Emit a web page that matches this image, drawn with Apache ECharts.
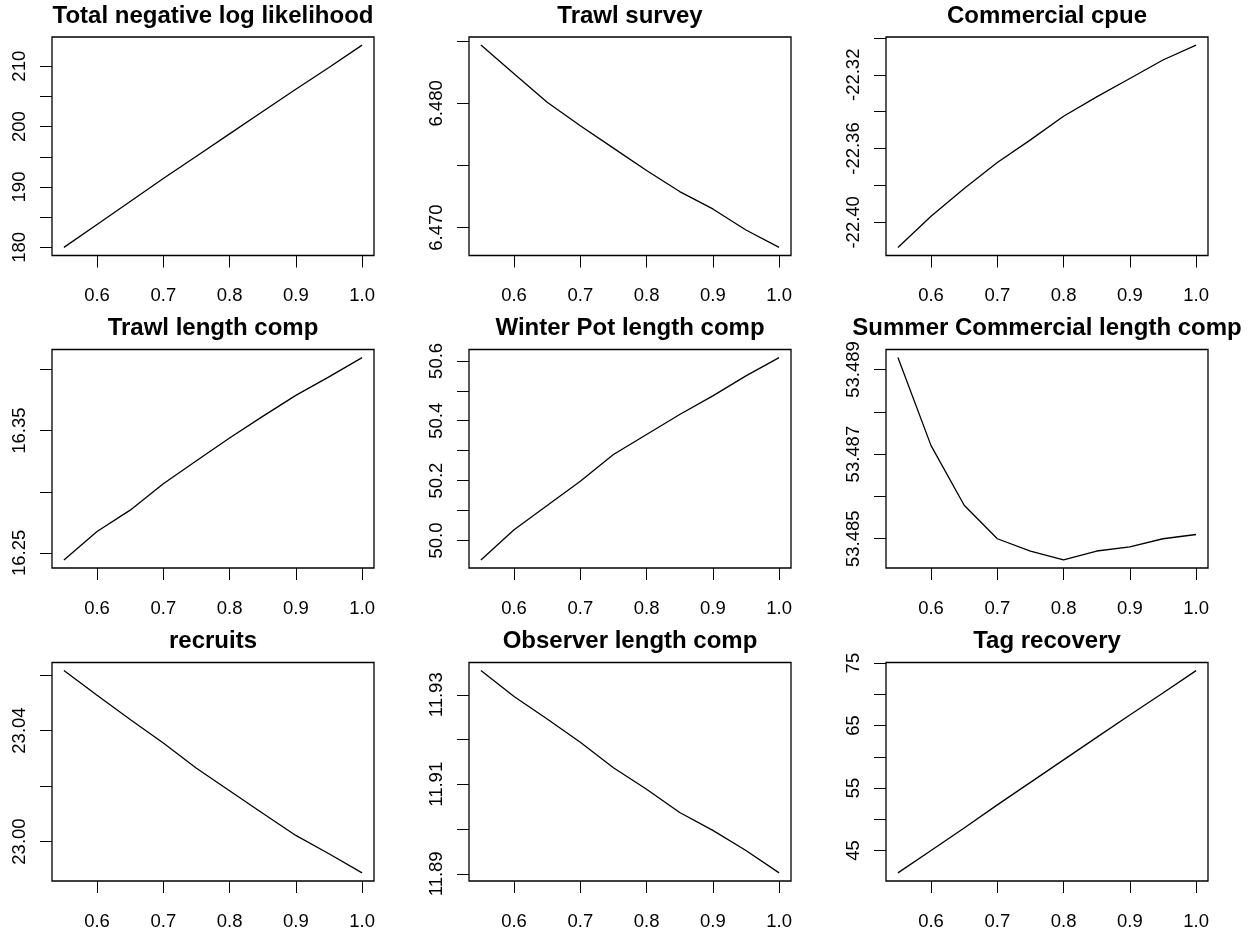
<!DOCTYPE html>
<html>
<head>
<meta charset="utf-8">
<script src="https://cdn.jsdelivr.net/npm/echarts@6/dist/echarts.min.js"></script>
<style>
html,body{margin:0;padding:0;background:#fff;}
#chart{width:1254px;height:934px;}
</style>
</head>
<body>
<div id="chart"></div>
<script>
// ---- data ----
const xValues = [0.55, 0.60, 0.65, 0.70, 0.75, 0.80, 0.85, 0.90, 0.95, 1.00];
const xTicks = [0.6, 0.7, 0.8, 0.9, 1.0];

const titles = [
  'Total negative log likelihood', 'Trawl survey', 'Commercial cpue',
  'Trawl length comp', 'Winter Pot length comp', 'Summer Commercial length comp',
  'recruits', 'Observer length comp', 'Tag recovery'
];

const totalNLL       = [180.0, 183.8, 187.6, 191.4, 195.1, 198.8, 202.5, 206.2, 209.8, 213.5];
const trawlSurvey    = [6.4847, 6.4824, 6.4801, 6.4782, 6.4764, 6.4746, 6.4729, 6.4715, 6.4698, 6.4684];
const commercialCpue = [-22.4136, -22.3967, -22.3816, -22.3676, -22.3553, -22.3425, -22.3320, -22.3220, -22.3120, -22.3039];
const trawlLength    = [16.2443, 16.2675, 16.2850, 16.3066, 16.3254, 16.3440, 16.3617, 16.3789, 16.3940, 16.4098];
const winterPot      = [49.935, 50.036, 50.117, 50.198, 50.287, 50.354, 50.421, 50.483, 50.550, 50.611];
const summerComm     = [53.48928, 53.48720, 53.48579, 53.48500, 53.48471, 53.48450, 53.48471, 53.48481, 53.48500, 53.48510];
const recruits       = [23.0616, 23.0527, 23.0440, 23.0355, 23.0264, 23.0183, 23.0102, 23.0022, 22.9956, 22.9887];
const observer       = [11.9354, 11.9296, 11.9246, 11.9194, 11.9137, 11.9089, 11.9037, 11.8997, 11.8952, 11.8902];
const tagRecovery    = [41.4, 45.0, 48.6, 52.3, 55.9, 59.5, 63.1, 66.7, 70.2, 73.8];

const seriesValues = [totalNLL, trawlSurvey, commercialCpue, trawlLength, winterPot, summerComm, recruits, observer, tagRecovery];

const yTicks = [
  [180, 185, 190, 195, 200, 205, 210],
  [6.470, 6.475, 6.480, 6.485],
  [-22.40, -22.38, -22.36, -22.34, -22.32, -22.30],
  [16.25, 16.30, 16.35, 16.40],
  [50.0, 50.1, 50.2, 50.3, 50.4, 50.5, 50.6],
  [53.485, 53.486, 53.487, 53.488, 53.489],
  [23.00, 23.02, 23.04, 23.06],
  [11.89, 11.90, 11.91, 11.92, 11.93],
  [45, 50, 55, 60, 65, 70, 75]
];
const yLabels = [
  [180, 190, 200, 210],
  [6.470, 6.480],
  [-22.40, -22.36, -22.32],
  [16.25, 16.35],
  [50.0, 50.2, 50.4, 50.6],
  [53.485, 53.487, 53.489],
  [23.00, 23.04],
  [11.89, 11.91, 11.93],
  [45, 55, 65, 75]
];
const yDecimals = [0, 3, 2, 2, 1, 3, 2, 2, 0];

// ---- layout ----
const colLeft = [52, 469, 886];
const rowTop = [37, 349.5, 662.5];
const boxW = 322, boxH = 218.5;
const FONT = '"Liberation Sans", Arial, Helvetica, sans-serif';

function padRange(arr) {
  const lo = Math.min.apply(null, arr), hi = Math.max.apply(null, arr);
  const p = (hi - lo) * 0.04;
  return [lo - p, hi + p];
}

const xr = padRange(xValues);
const grids = [], xAxes = [], yAxes = [], series = [], titleArr = [];

for (let i = 0; i < 9; i++) {
  const r = Math.floor(i / 3), c = i % 3;
  const left = colLeft[c], top = rowTop[r];
  grids.push({
    left: left, top: top, width: boxW, height: boxH,
    show: true, borderColor: '#000', borderWidth: 1.3, backgroundColor: 'transparent'
  });
  titleArr.push({
    text: titles[i], left: left + boxW / 2, top: top - 33, textAlign: 'center',
    textStyle: { fontFamily: FONT, fontWeight: 'bold', fontSize: 24, color: '#000' },
    padding: 0
  });
  xAxes.push({
    type: 'value', gridIndex: i, min: xr[0], max: xr[1],
    axisLine: { show: false },
    splitLine: { show: false },
    axisTick: { show: true, inside: false, length: 12, lineStyle: { color: '#000', width: 1 }, customValues: xTicks },
    axisLabel: { show: true, margin: 31, color: '#000', fontFamily: FONT, fontSize: 18.5,
      customValues: xTicks, formatter: v => Number(v).toFixed(1) }
  });
  const yr = padRange(seriesValues[i]);
  const dec = yDecimals[i];
  yAxes.push({
    type: 'value', gridIndex: i, min: yr[0], max: yr[1],
    axisLine: { show: false },
    splitLine: { show: false },
    axisTick: { show: true, inside: false, length: 12, lineStyle: { color: '#000', width: 1 }, customValues: yTicks[i] },
    axisLabel: { show: true, rotate: 90, margin: 23, color: '#000', fontFamily: FONT, fontSize: 18.5,
      customValues: yLabels[i], formatter: v => Number(v).toFixed(dec) }
  });
  series.push({
    type: 'line', xAxisIndex: i, yAxisIndex: i,
    data: xValues.map((x, k) => [x, seriesValues[i][k]]),
    showSymbol: false, symbol: 'none', smooth: false,
    lineStyle: { color: '#000', width: 1.3 },
    silent: true, animation: false
  });
}

const chart = echarts.init(document.getElementById('chart'), null, { renderer: 'canvas' });
chart.setOption({
  animation: false,
  backgroundColor: '#fff',
  title: titleArr,
  grid: grids,
  xAxis: xAxes,
  yAxis: yAxes,
  series: series
});
</script>
</body>
</html>
